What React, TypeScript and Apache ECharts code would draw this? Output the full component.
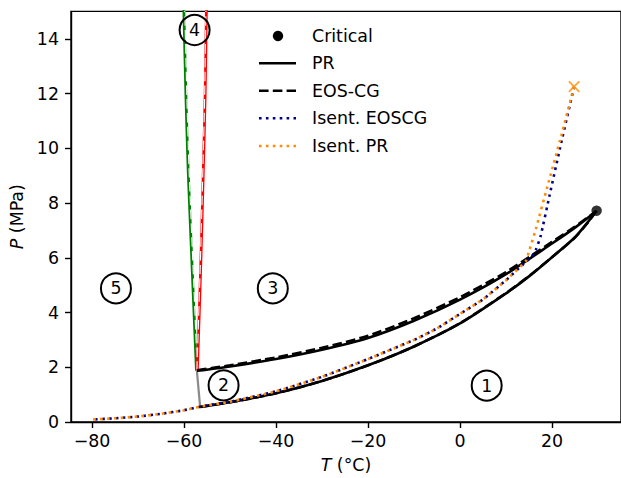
import { useEffect, useRef } from 'react';
import * as echarts from 'echarts';

const FONT = 'DejaVu Sans';
const FS = 17.4;
const LW = 2.6;

// Tick positions
const xTicks = [-80, -60, -40, -20, 0, 20];
const yTicks = [0, 2, 4, 6, 8, 10, 12, 14];

// Phase envelope, Peng-Robinson: bubble branch (triple -> critical), dew branch (critical -> end)
const prBubbleT = [-57.2, -50, -40, -30, -20, -10, 0, 10, 20, 25, 29.7];
const prBubbleP = [1.87, 2.03, 2.3, 2.64, 3.07, 3.7, 4.47, 5.4, 6.52, 7.1, 7.72];
const prDewT = [29.7, 28, 25, 20, 15, 10, 0, -10, -20, -30, -40, -50, -56.5];
const prDewP = [7.72, 7.35, 6.75, 6.02, 5.32, 4.7, 3.6, 2.76, 2.07, 1.5, 1.05, 0.72, 0.55];

// Phase envelope, EOS-CG
const cgBubbleT = [-57.2, -50, -40, -30, -20, -10, 0, 10, 20, 25, 29.6];
const cgBubbleP = [1.89, 2.07, 2.36, 2.71, 3.15, 3.79, 4.56, 5.48, 6.58, 7.14, 7.7];
const cgDewT = [29.6, 28, 25, 20, 15, 10, 0, -10, -20, -30, -40, -50, -56.5];
const cgDewP = [7.7, 7.33, 6.74, 6.02, 5.33, 4.71, 3.61, 2.76, 2.07, 1.5, 1.05, 0.72, 0.55];

// Critical point
const criticalT = [29.7];
const criticalP = [7.72];

// Solid-liquid boundaries
const meltGreenT = [-57.3, -58.2, -59.1, -59.6, -60.1];
const meltGreenP = [1.87, 5.5, 9.2, 12, 15.5];
const meltGreenCgT = [-57.1, -58.0, -58.9, -59.4, -59.9];
const meltRedT = [-57.1, -56.4, -55.8, -55.4, -55.1];
const meltRedP = [1.87, 5.5, 9.2, 12, 15.5];
const meltRedCgT = [-57.2, -56.5, -55.9, -55.5, -55.2];

// Solid-vapour boundary segment below the triple line
const sublT = [-57.2, -56.5];
const sublP = [1.87, 0.55];

// Isentropic depressurisation paths
const isentCgT = [24.8, 22, 19.5, 17.5, 16.5, 15.5, 14.3, 10, 5, 0, -5, -10, -20, -30, -40, -50, -56.5, -60, -65, -70, -75, -79.8];
const isentCgP = [12.25, 10.2, 8.3, 6.77, 6.3, 6.02, 5.85, 5.18, 4.48, 3.95, 3.42, 3.0, 2.3, 1.65, 1.12, 0.74, 0.56, 0.43, 0.3, 0.2, 0.135, 0.09];
const isentPrT = [24.8, 22, 19, 16.5, 15, 14.3, 10, 5, 0, -5, -10, -20, -30, -40, -50, -56.5, -60, -65, -70, -75, -79.8];
const isentPrP = [12.25, 10.45, 8.6, 7.06, 6.23, 5.88, 5.18, 4.48, 3.95, 3.42, 3.0, 2.3, 1.65, 1.12, 0.74, 0.56, 0.43, 0.3, 0.2, 0.135, 0.09];

// Region markers
const regionT = [5.8, -51.4, -40.7, -57.7, -74.8];
const regionP = [1.33, 1.34, 4.88, 14.32, 4.88];
const regionLabel = ['1', '2', '3', '4', '5'];

// Legend entries
const legendNames = ['Critical', 'PR', 'EOS-CG', 'Isent. EOSCG', 'Isent. PR'];

const pairs = (t: number[], p: number[]) => t.map((v, i) => [v, p[i]]);
const minus = (v: number) => String(v).replace('-', '\u2212');

const DASH = [9.6, 4.2];
const DOT = [2.6, 4.3];

function lineSeries(name: string, data: number[][], color: string, type: any, width = LW, smooth: number | boolean = 0.25) {
  return {
    type: 'line',
    name,
    data,
    symbol: 'none',
    showSymbol: false,
    smooth,
    silent: true,
    lineStyle: { color, width, type, cap: 'butt' },
  };
}

export default function App() {
  const ref = useRef<HTMLDivElement>(null);

  useEffect(() => {
    if (!ref.current) return;
    const chart = echarts.init(ref.current, undefined, { renderer: 'svg' });

    const legendX = 259;
    const legendY = [36, 63.3, 90.7, 118.3, 146];
    const legendGraphics: any[] = [
      { type: 'circle', shape: { cx: legendX + 19, cy: legendY[0], r: 5.2 }, style: { fill: '#000' } },
      { type: 'line', shape: { x1: legendX, y1: legendY[1], x2: legendX + 37, y2: legendY[1] }, style: { stroke: '#000', lineWidth: LW } },
      { type: 'line', shape: { x1: legendX, y1: legendY[2], x2: legendX + 37, y2: legendY[2] }, style: { stroke: '#000', lineWidth: LW, lineDash: DASH } },
      { type: 'line', shape: { x1: legendX, y1: legendY[3], x2: legendX + 37, y2: legendY[3] }, style: { stroke: '#00008b', lineWidth: LW, lineDash: DOT } },
      { type: 'line', shape: { x1: legendX, y1: legendY[4], x2: legendX + 37, y2: legendY[4] }, style: { stroke: '#ff8c00', lineWidth: LW, lineDash: DOT } },
      ...legendNames.map((n, i) => ({
        type: 'text',
        x: 312,
        y: legendY[i],
        style: { text: n, font: `${FS}px "${FONT}"`, fill: '#000', verticalAlign: 'middle', align: 'left' },
      })),
    ];

    chart.setOption({
      animation: false,
      backgroundColor: '#fff',
      textStyle: { fontFamily: FONT },
      grid: { left: 70, top: 11.4, width: 552.6, height: 413.1, show: true, borderColor: '#000', borderWidth: 1.4, backgroundColor: 'transparent' },
      xAxis: {
        type: 'value',
        min: -84.57,
        max: 35,
        name: '{i|T} (°C)',
        nameLocation: 'middle',
        nameGap: 34,
        nameTextStyle: { fontSize: FS, fontFamily: FONT, color: '#000', rich: { i: { fontStyle: 'italic', fontSize: FS, fontFamily: FONT, color: '#000' } } },
        axisLine: { show: true, onZero: false, lineStyle: { color: '#000', width: 1.4 } },
        axisTick: { show: true, length: 6, lineStyle: { color: '#000', width: 1.4 }, customValues: xTicks },
        axisLabel: { fontSize: FS, fontFamily: FONT, color: '#000', margin: 10, customValues: xTicks, formatter: (v: number) => minus(v) },
        splitLine: { show: false },
      },
      yAxis: {
        type: 'value',
        min: 0,
        max: 15,
        name: '{i|P} (MPa)',
        nameLocation: 'middle',
        nameGap: 46,
        nameTextStyle: { fontSize: FS, fontFamily: FONT, color: '#000', rich: { i: { fontStyle: 'italic', fontSize: FS, fontFamily: FONT, color: '#000' } } },
        axisLine: { show: true, onZero: false, lineStyle: { color: '#000', width: 1.4 } },
        axisTick: { show: true, length: 6, lineStyle: { color: '#000', width: 1.4 }, customValues: yTicks },
        axisLabel: { fontSize: FS, fontFamily: FONT, color: '#000', margin: 12, customValues: yTicks, formatter: (v: number) => minus(v) },
        splitLine: { show: false },
      },
      graphic: legendGraphics,
      series: [
        lineSeries('sublimation', pairs(sublT, sublP), '#8a8a8a', 'solid', 2.2, false),
        lineSeries('melt-green', pairs(meltGreenT, meltGreenP), '#008000', 'solid', 2.8),
        lineSeries('melt-green-cg', pairs(meltGreenCgT, meltGreenP), '#ffffff', DASH, 1.1),
        lineSeries('melt-red', pairs(meltRedT, meltRedP), '#ff0000', 'solid', 2.8),
        lineSeries('melt-red-cg', pairs(meltRedCgT, meltRedP), '#ffffff', DASH, 1.1),
        lineSeries('PR', pairs(prBubbleT, prBubbleP), '#000', 'solid'),
        lineSeries('PR', pairs(prDewT, prDewP), '#000', 'solid'),
        lineSeries('EOS-CG', pairs(cgBubbleT, cgBubbleP), '#000', DASH),
        lineSeries('EOS-CG', pairs(cgDewT, cgDewP), '#000', DASH),
        lineSeries('Isent. EOSCG', pairs(isentCgT, isentCgP), '#00008b', DOT, LW, 0.15),
        lineSeries('Isent. PR', pairs(isentPrT, isentPrP), '#ff8c00', DOT, LW, 0.15),
        {
          type: 'scatter',
          name: 'Critical',
          data: pairs(criticalT, criticalP),
          symbol: 'circle',
          symbolSize: 10.4,
          silent: true,
          itemStyle: { color: '#000' },
          z: 5,
        },
        {
          type: 'scatter',
          name: 'Isent. start',
          data: [[isentPrT[0], isentPrP[0]]],
          symbol: 'path://M0,0L10,10M10,0L0,10',
          symbolSize: 10.4,
          silent: true,
          itemStyle: { color: 'transparent', borderColor: '#ff8c00', borderWidth: 1.8 },
          z: 5,
        },
        {
          type: 'scatter',
          name: 'Regions',
          data: regionT.map((t, i) => ({ value: [t, regionP[i]], name: regionLabel[i] })),
          symbol: 'circle',
          symbolSize: 30,
          silent: true,
          itemStyle: { color: 'rgba(0,0,0,0)', borderColor: '#000', borderWidth: 2, opacity: 1 },
          label: {
            show: true,
            position: 'inside',
            formatter: (p: any) => p.name,
            fontSize: FS,
            fontFamily: FONT,
            color: '#000',
            textBorderWidth: 0,
          },
          emphasis: { disabled: true },
          z: 4,
        },
      ],
    });

    return () => chart.dispose();
  }, []);

  return <div ref={ref} style={{ position: 'fixed', left: 0, top: 0, width: 621, height: 478 }} />;
}
